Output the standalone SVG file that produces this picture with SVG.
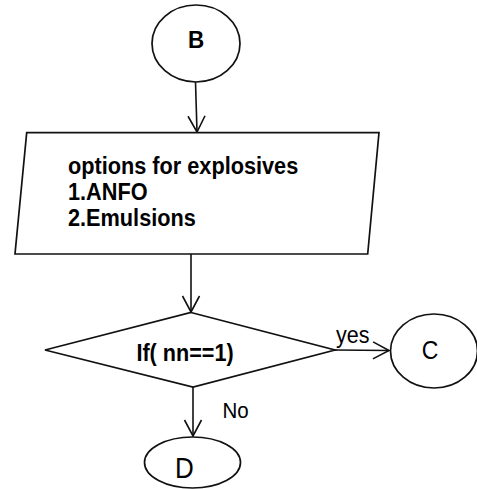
<svg xmlns="http://www.w3.org/2000/svg" width="477" height="489" viewBox="0 0 477 489">
<style>
.shape{fill:#fff;stroke:#111;stroke-width:1.7}
.line{fill:none;stroke:#111;stroke-width:1.6}
.t{font-family:"Liberation Sans",Arial,sans-serif;fill:#000}
.b{font-weight:bold}
</style>
<defs>
<marker id="arr" markerUnits="userSpaceOnUse" markerWidth="20" markerHeight="20" viewBox="-18 -10 20 20" refX="0" refY="0" orient="auto" overflow="visible">
<path d="M-16,-8.5 L0,0 L-16,8.5" fill="none" stroke="#111" stroke-width="1.6"/>
</marker>
</defs>
<rect width="477" height="489" fill="#fff"/>
<g id="connectors">
<line class="line" x1="195.5" y1="82" x2="197" y2="132" marker-end="url(#arr)"/>
<line class="line" x1="191" y1="254" x2="191" y2="312" marker-end="url(#arr)"/>
<line class="line" x1="335" y1="350" x2="389" y2="350.5" marker-end="url(#arr)"/>
<text class="t" transform="translate(336,343) scale(1,1.1)" font-size="21.5">yes</text>
<text class="t" transform="translate(222.5,417.5) scale(1,1.1)" font-size="20.5">No</text>
<line class="line" x1="193" y1="387" x2="193" y2="436" marker-end="url(#arr)"/>
</g>
<g id="nodeB">
<ellipse class="shape" cx="196" cy="43.5" rx="44" ry="38.5"/>
<text class="t b" transform="translate(196,47.5) scale(1,1.1)" font-size="22.5" text-anchor="middle">B</text>
</g>
<g id="nodeOptions">
<polygon class="shape" points="26.7,132.7 379,132.7 367.7,254 15,254"/>
<text class="t b" transform="translate(68,173.5) scale(1,1.08)" font-size="21.7">options for explosives</text>
<text class="t b" transform="translate(68,200) scale(1,1.08)" font-size="21.7">1.ANFO</text>
<text class="t b" transform="translate(68,226) scale(1,1.08)" font-size="21.7">2.Emulsions</text>
</g>
<g id="nodeDecision">
<polygon class="shape" points="191,312.5 335,350 193,387 45,350"/>
<text class="t b" transform="translate(185,361) scale(1,1.1)" font-size="21.6" text-anchor="middle">If( nn==1)</text>
</g>
<g id="nodeC">
<ellipse class="shape" cx="434" cy="351" rx="43.5" ry="37"/>
<text class="t" transform="translate(430,359) scale(1,1.1)" font-size="23" text-anchor="middle">C</text>
</g>
<g id="nodeD">
<ellipse class="shape" cx="192.5" cy="462.5" rx="48" ry="25.5"/>
<text class="t" transform="translate(184.5,478) scale(1,1.1)" font-size="26" text-anchor="middle">D</text>
</g>
</svg>
